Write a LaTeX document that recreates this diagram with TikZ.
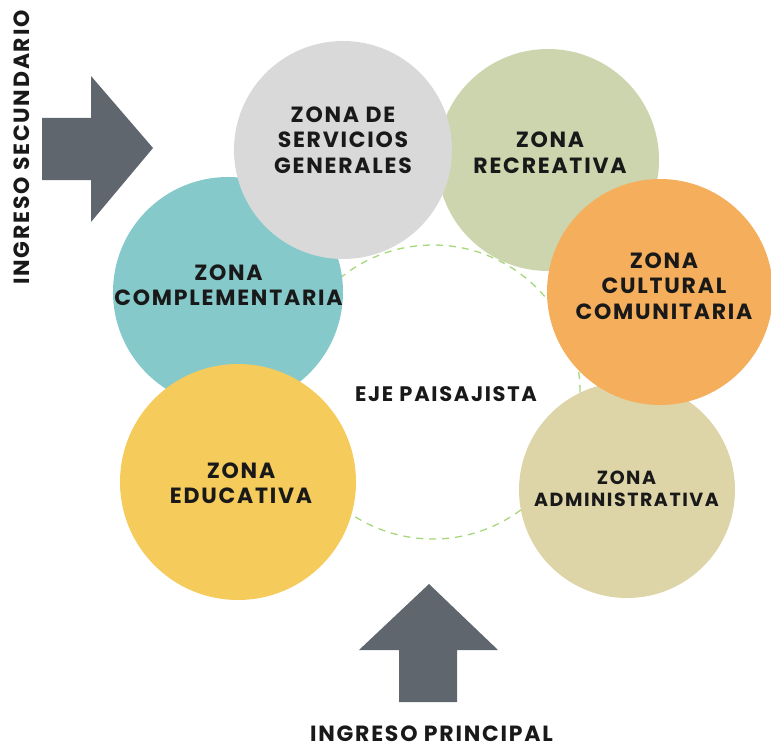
\documentclass[tikz,border=0pt]{standalone}
\usepackage{fontspec}
\setmainfont{Poppins}[LetterSpace=8]
\definecolor{cgray}{HTML}{D9D9D9}
\definecolor{cgreen}{HTML}{CCD5AE}
\definecolor{corange}{HTML}{F5AF5C}
\definecolor{cadmin}{HTML}{DDD5A8}
\definecolor{cyellow}{HTML}{F5CB5C}
\definecolor{cteal}{HTML}{86C9CB}
\definecolor{carrow}{HTML}{5F666D}
\definecolor{cdash}{HTML}{A5D87A}
\tikzset{
  zone/.style={circle, draw=none, inner sep=0pt},
  ztext/.style={align=center, inner sep=0pt, font=\fontsize{22}{25.5}\selectfont\bfseries, text=black!90},
  arrowshape/.style={fill=carrow, draw=none},
}
\begin{document}
\begin{tikzpicture}[x=1pt,y=-1pt]
\useasboundingbox (0,0) rectangle (771,749);
% dashed landscape axis
\node[circle, draw=cdash, dashed, line width=1.3pt, dash pattern=on 7pt off 6pt, minimum size=294pt, inner sep=0pt] (eje) at (433,392) {};
% circles
\node[zone, fill=cgreen, minimum size=222pt] (rec) at (548,160) {};
\node[zone, fill=cteal, minimum size=230pt] (comp) at (228,292) {};
\node[zone, fill=cgray, minimum size=218pt] (serv) at (343,150) {};
\node[zone, fill=cadmin, minimum size=216pt] (adm) at (627,490) {};
\node[zone, fill=corange, minimum size=226pt] (cult) at (660,292) {};
\node[zone, fill=cyellow, minimum size=236pt] (edu) at (238,482) {};
% texts
\node[ztext] (tserv) at (343,140) {ZONA DE\\SERVICIOS\\GENERALES};
\node[ztext] (trec) at (550,152.5) {ZONA\\RECREATIVA};
\node[ztext] (tcult) at (664,286) {ZONA\\CULTURAL\\COMUNITARIA};
\node[ztext] (tcomp) at (228.5,285) {ZONA\\COMPLEMENTARIA};
\node[ztext] (tedu) at (241,483) {ZONA\\EDUCATIVA};
\node[ztext, font=\fontsize{19}{22.5}\selectfont\bfseries] (tadm) at (626.5,489) {ZONA\\ADMINISTRATIVA};
\node[ztext, font=\fontsize{21}{25}\selectfont\bfseries] (teje) at (446,394.5) {EJE PAISAJISTA};
% arrows
\fill[arrowshape] (42,118) -- (91,118) -- (91,76) -- (153,148) -- (91,222) -- (91,180) -- (42,180) -- cycle;
\fill[arrowshape] (399,702) -- (399,650) -- (359,650) -- (429,584) -- (498,650) -- (457,650) -- (457,702) -- cycle;
\node[ztext, rotate=90] (tsec) at (22,147.5) {INGRESO SECUNDARIO};
\node[ztext] (tpri) at (431.5,734) {INGRESO PRINCIPAL};
\end{tikzpicture}
\end{document}
